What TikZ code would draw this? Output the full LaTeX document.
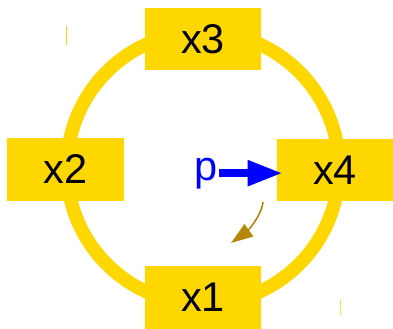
\documentclass[tikz,border=0pt]{standalone}
\usepackage{fontspec}
\setmainfont{Liberation Sans}
\definecolor{ringgold}{RGB}{255,215,0}
\definecolor{pblue}{RGB}{0,0,255}
\definecolor{bendbrown}{RGB}{184,134,11}
\usetikzlibrary{arrows.meta}

\begin{document}
\begin{tikzpicture}[x=0.025cm,y=-0.025cm,
  varbox/.style={fill=ringgold,draw=none,minimum width=2.9cm,minimum height=1.55cm,inner sep=0pt,font=\fontsize{29.5}{33}\selectfont},
  ring/.style={draw=ringgold,line width=0.34cm}]
  \useasboundingbox (0,0) rectangle (393,328);
  \coordinate (c) at (203,168);
  \draw[ring] (c) circle[radius=3.4cm];
  \node[varbox] (x3) at (203,39) {x3};
  \node[varbox] (x2) at (65.5,169.5) {x2};
  \node[varbox] (x4) at (335,170) {x4};
  \node[varbox] (x1) at (203,297.5) {x1};
  \node[text=pblue,inner sep=1pt,anchor=base,font=\fontsize{29.5}{33}\selectfont] (p) at (206,180) {p};
  \draw[pblue,line width=0.2cm,shorten >=-0.15cm,-{Triangle[length=0.875cm,width=0.6cm]}] (p.east) -- (p.east -| x4.west);
  % small bent arrow under p
  \coordinate (bs) at (263,202);
  \coordinate (be) at (231,243);
  \draw[bendbrown,line width=0.04cm,-{Triangle[length=0.55cm,width=0.375cm]}] (bs) .. controls (261,218) and (245,233) .. (be);
  % stray marks
  \draw[ringgold,line width=0.04cm] (66.5,26) -- (66.5,45);
  \draw[ringgold!70,line width=0.04cm] (340.5,299) -- (340.5,315);
\end{tikzpicture}
\end{document}
